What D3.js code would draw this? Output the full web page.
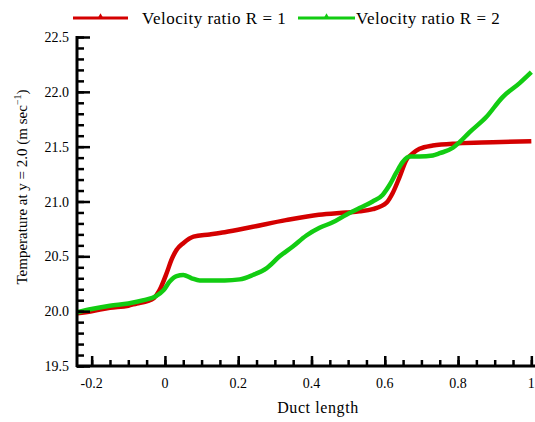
<!DOCTYPE html>
<html>
<head>
<meta charset="utf-8">
<script src="https://cdn.jsdelivr.net/npm/d3@7"></script>
<style>
  body { margin: 0; background: #fff; }
  svg text { font-family: "Liberation Serif", "DejaVu Serif", serif; fill: #000; }
</style>
</head>
<body>
<div id="chart"></div>
<script>
// values
var xR1 = [-0.24, -0.2, -0.15, -0.1, -0.077, -0.05, -0.03, -0.015, 0.005, 0.018, 0.032, 0.05, 0.078, 0.122, 0.163, 0.24, 0.33, 0.42, 0.495, 0.531, 0.567, 0.605, 0.622, 0.64, 0.659, 0.677, 0.695, 0.731, 0.8, 0.895, 1.0];
var yR1 = [19.98, 20.0, 20.03, 20.05, 20.07, 20.09, 20.12, 20.19, 20.35, 20.47, 20.56, 20.62, 20.68, 20.70, 20.72, 20.77, 20.83, 20.88, 20.9, 20.91, 20.93, 20.99, 21.08, 21.22, 21.38, 21.44, 21.48, 21.51, 21.53, 21.54, 21.55];

var xR2 = [-0.24, -0.2, -0.15, -0.1, -0.058, -0.023, -0.004, 0.013, 0.032, 0.05, 0.073, 0.095, 0.163, 0.204, 0.24, 0.277, 0.313, 0.349, 0.386, 0.422, 0.458, 0.495, 0.531, 0.567, 0.594, 0.613, 0.631, 0.649, 0.668, 0.695, 0.731, 0.75, 0.786, 0.804, 0.831, 0.877, 0.921, 0.968, 1.0];
var yR2 = [19.99, 20.02, 20.05, 20.07, 20.1, 20.14, 20.19, 20.27, 20.32, 20.33, 20.30, 20.28, 20.28, 20.29, 20.33, 20.39, 20.5, 20.59, 20.69, 20.76, 20.81, 20.88, 20.94, 21.0, 21.06, 21.15, 21.26, 21.36, 21.41, 21.41, 21.42, 21.44, 21.49, 21.54, 21.63, 21.77, 21.95, 22.08, 22.18];

var xTicks = [-0.2, 0, 0.2, 0.4, 0.6, 0.8, 1];
var xTickLabels = ["-0.2", "0", "0.2", "0.4", "0.6", "0.8", "1"];
var yTicks = [19.5, 20.0, 20.5, 21.0, 21.5, 22.0, 22.5];
var seriesNames = ["Velocity ratio R = 1", "Velocity ratio R = 2"];
var seriesColors = ["#d40000", "#12cc12"];

var width = 535, height = 422;
var serif = "'Liberation Serif', 'DejaVu Serif', serif";

var svg = d3.select("#chart").append("svg")
            .attr("width", width)
            .attr("height", height);

// scales
var x = d3.scaleLinear().domain([-0.24, 1.01]).range([77, 535]);
var y = d3.scaleLinear().domain([19.5, 22.5]).range([366, 37]);

// build point lists
var series = [
  xR1.map(function(d, i) { return [d, yR1[i]]; }),
  xR2.map(function(d, i) { return [d, yR2[i]]; })
];

var line = d3.line()
             .x(function(d) { return x(d[0]); })
             .y(function(d) { return y(d[1]); })
             .curve(d3.curveMonotoneX);

// draw the curves (R=1 first, R=2 on top)
series.forEach(function(s, k) {
  svg.append("path")
     .datum(s)
     .attr("d", line)
     .attr("fill", "none")
     .attr("stroke", seriesColors[k])
     .attr("stroke-width", 4.5)
     .attr("stroke-linejoin", "round");
});

// x axis (ticks pointing inward)
var xMinor = d3.range(-0.2, 1.001, 0.05);
var xAxis = svg.append("g").attr("transform", "translate(0,366)");
xAxis.append("g")
     .call(d3.axisTop(x).tickValues(xMinor).tickSize(6).tickFormat(""))
     .call(function(g) { g.select(".domain").remove(); })
     .selectAll("line").attr("stroke-width", 2.5);
xAxis.append("g")
     .call(d3.axisTop(x).tickValues(xTicks).tickSize(10).tickFormat(""))
     .call(function(g) { g.select(".domain").remove(); })
     .selectAll("line").attr("stroke-width", 2.5);
xAxis.append("line")
     .attr("x1", 76).attr("x2", 535)
     .attr("stroke", "#000").attr("stroke-width", 3);
xAxis.selectAll(".xlab")
     .data(xTicks)
     .enter().append("text")
     .attr("class", "xlab")
     .attr("x", function(d) { return x(d); })
     .attr("y", 22)
     .attr("text-anchor", "middle")
     .style("font-family", serif)
     .style("font-size", "14px")
     .text(function(d, i) { return xTickLabels[i]; });

// y axis (ticks pointing inward)
var yMinor = d3.range(19.5, 22.501, 0.1);
var yAxis = svg.append("g").attr("transform", "translate(77,0)");
yAxis.append("g")
     .call(d3.axisRight(y).tickValues(yMinor).tickSize(7).tickFormat(""))
     .call(function(g) { g.select(".domain").remove(); })
     .selectAll("line").attr("stroke-width", 2.5);
yAxis.append("g")
     .call(d3.axisRight(y).tickValues(yTicks).tickSize(13).tickFormat(""))
     .call(function(g) { g.select(".domain").remove(); })
     .selectAll("line").attr("stroke-width", 2.5);
yAxis.append("line")
     .attr("y1", 36).attr("y2", 367)
     .attr("stroke", "#000").attr("stroke-width", 3);
yAxis.selectAll(".ylab")
     .data(yTicks)
     .enter().append("text")
     .attr("class", "ylab")
     .attr("x", -8)
     .attr("y", function(d) { return y(d) + 5; })
     .attr("text-anchor", "end")
     .style("font-family", serif)
     .style("font-size", "14px")
     .text(function(d) { return d.toFixed(1); });

// axis titles
svg.append("text")
   .attr("x", 318)
   .attr("y", 413)
   .attr("text-anchor", "middle")
   .style("font-family", serif)
   .style("font-size", "16px")
   .style("letter-spacing", "0.6px")
   .text("Duct length");

var ytitle = svg.append("text")
   .attr("transform", "translate(27,187) rotate(-90)")
   .attr("text-anchor", "middle")
   .style("font-family", serif)
   .style("font-size", "15px");
ytitle.append("tspan").text("Temperature at y = 2.0 (m sec");
ytitle.append("tspan").attr("dy", -6).style("font-size", "10px").text("\u22121");
ytitle.append("tspan").attr("dy", 6).text(")");

// legend
var legendPos = [[73, 128, 142], [298, 355, 356]];
seriesNames.forEach(function(name, k) {
  var p = legendPos[k];
  svg.append("line")
     .attr("x1", p[0]).attr("x2", p[1])
     .attr("y1", 18).attr("y2", 18)
     .attr("stroke", seriesColors[k])
     .attr("stroke-width", 3);
  svg.append("path")
     .attr("transform", "translate(" + ((p[0] + p[1]) / 2) + ",16)")
     .attr("d", d3.symbol().type(d3.symbolTriangle).size(10))
     .attr("fill", seriesColors[k]);
  svg.append("text")
     .attr("x", p[2])
     .attr("y", 24)
     .style("font-family", serif)
     .style("font-size", "17px")
     .style("letter-spacing", "0.5px")
     .text(name);
});
</script>
</body>
</html>
